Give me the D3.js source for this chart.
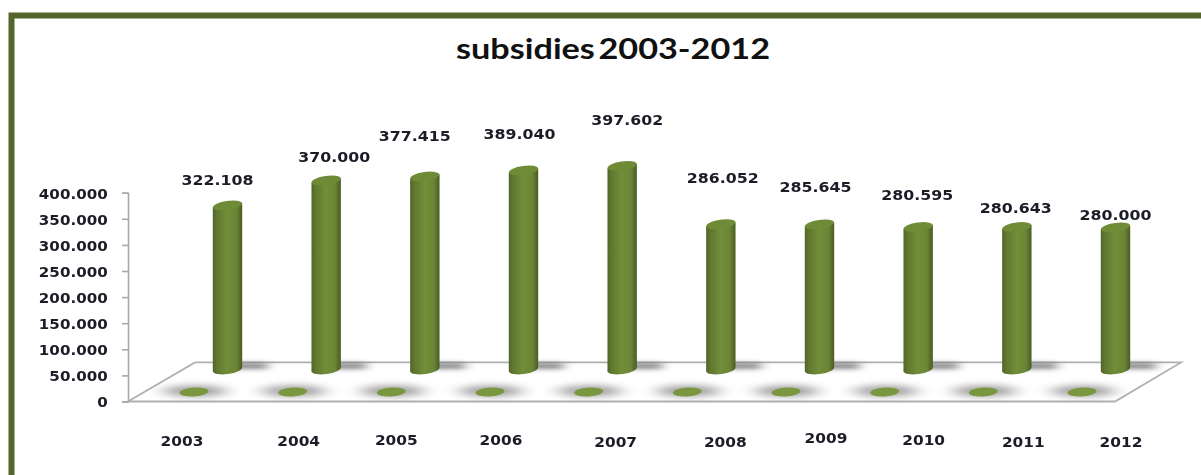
<!DOCTYPE html>
<html>
<head>
<meta charset="utf-8">
<script src="https://cdn.jsdelivr.net/npm/d3@7"></script>
<style>
  html, body { margin: 0; padding: 0; background: #fff; overflow: hidden; }
  text { font-family: "DejaVu Sans", sans-serif; font-weight: bold; fill: #1c1c28; }
  .title { font-family: Lato, sans-serif; font-size: 29px; fill: #111; word-spacing: -4px; }
</style>
</head>
<body>
<svg id="vis" width="1201" height="475"></svg>
<script>
const years = ["2003", "2004", "2005", "2006", "2007", "2008", "2009", "2010", "2011", "2012"];
const subsidies = [322108, 370000, 377415, 389040, 397602, 286052, 285645, 280595, 280643, 280000];
const axisTicks = [0, 50000, 100000, 150000, 200000, 250000, 300000, 350000, 400000];

// the labels in the original were moved by hand, so they don't sit on the bars
const yearNudgeX = [-12, 6, 5, 11, 27, 38, 40, 39, 40, 39];
const yearNudgeY = [0, 0, -1, -1, 1, 1, -3, -1, 1, 1];
const valueNudgeX = [-10, 8, -10, -4, 5, 2, -4, -1, -1, 0];
const valueNudgeY = [-20, -18, -35, -31, -41, -41, -32, -27, -14, -7];

const ink = d3.formatLocale({ decimal: ",", thousands: ".", grouping: [3], currency: ["", ""] }).format(",");

const svg = d3.select("#vis");
const defs = svg.append("defs");

let grad = defs.append("linearGradient").attr("id", "cyl");
grad.append("stop").attr("offset", "0%").attr("stop-color", "#526626");
grad.append("stop").attr("offset", "14%").attr("stop-color", "#5f7730");
grad.append("stop").attr("offset", "48%").attr("stop-color", "#728e39");
grad.append("stop").attr("offset", "80%").attr("stop-color", "#6b8535");
grad.append("stop").attr("offset", "100%").attr("stop-color", "#4a5c24");

defs.append("filter").attr("id", "blur")
  .attr("x", "-50%").attr("y", "-100%").attr("width", "200%").attr("height", "300%")
  .append("feGaussianBlur").attr("stdDeviation", "6 2.5");
defs.append("filter").attr("id", "blurWide")
  .attr("x", "-50%").attr("y", "-100%").attr("width", "200%").attr("height", "300%")
  .append("feGaussianBlur").attr("stdDeviation", "9 3");
defs.append("filter").attr("id", "soft")
  .append("feGaussianBlur").attr("stdDeviation", 0.3);

// frame, open on the right and bottom
svg.append("path")
  .attr("d", "M11.5,475 V15.5 H1201")
  .attr("fill", "none")
  .attr("stroke", "#55662b")
  .attr("stroke-width", 6);

const y = d3.scaleLinear().domain([0, 400000]).range([401.5, 192.7]);
const front = d3.scalePoint().domain(years).range([194, 1082]);
const back = d3.scalePoint().domain(years).range([227.5, 1115.5]);

const floorFront = y(0);
const floorBack = y(80000) + 2.7;

// floor
svg.append("path")
  .attr("d", `M128,${floorFront} L195,${floorBack} H1181 L1115,${floorFront} Z`)
  .attr("fill", "#fff")
  .attr("stroke", "#b0b0b0")
  .attr("stroke-width", 1.8);

// shadows on the floor
svg.append("g").selectAll("rect")
  .data(years)
  .enter()
  .append("rect")
  .attr("x", d => back(d) - 2)
  .attr("y", floorBack + 1)
  .attr("width", 42)
  .attr("height", 5)
  .attr("fill", "#555")
  .attr("opacity", 0.85)
  .attr("filter", "url(#blur)");

svg.append("g").selectAll("ellipse")
  .data(years)
  .enter()
  .append("ellipse")
  .attr("cx", d => front(d) + 1)
  .attr("cy", 391)
  .attr("rx", 32)
  .attr("ry", 6)
  .attr("fill", "#808080")
  .attr("opacity", 0.7)
  .attr("filter", "url(#blurWide)");

// front discs
svg.append("g").selectAll("ellipse")
  .data(years)
  .enter()
  .append("ellipse")
  .attr("cx", d => front(d))
  .attr("cy", 392)
  .attr("rx", 14.5)
  .attr("ry", 4.4)
  .attr("transform", d => `rotate(-4 ${front(d)} 392)`)
  .attr("fill", "#7a963e");

// axis
const axis = d3.axisLeft(y).tickValues(axisTicks).tickSize(6).tickPadding(13).tickFormat(ink);
const axisG = svg.append("g").attr("transform", "translate(128,0)").call(axis);
axisG.select(".domain").attr("stroke", "#a8a8a8").attr("stroke-width", 1.6);
axisG.selectAll(".tick line").attr("stroke", "#a8a8a8").attr("stroke-width", 1.6);
axisG.selectAll(".tick text")
  .attr("font-size", 13.5)
  .attr("font-family", "DejaVu Sans")
  .attr("transform", "translate(-108,1) scale(1.12,1) translate(97.3,0)")
  .attr("filter", "url(#soft)");

// cylinders, the ends tilt up to the right
const baseY = floorFront - 32;
const liftTop = 28;
const radius = 14.7;
const tilt = 2;
const bars = svg.append("g").selectAll("g")
  .data(years)
  .enter()
  .append("g");

bars.append("ellipse")
  .attr("cx", d => back(d))
  .attr("cy", baseY)
  .attr("rx", radius)
  .attr("ry", 4.5)
  .attr("transform", d => `rotate(-8 ${back(d)} ${baseY})`)
  .attr("fill", "url(#cyl)");

bars.append("path")
  .attr("d", (d, i) => {
    let top = y(subsidies[i]) - liftTop;
    let p = d3.path();
    p.moveTo(back(d) - radius, top + tilt);
    p.lineTo(back(d) + radius, top - tilt);
    p.lineTo(back(d) + radius, baseY - tilt);
    p.lineTo(back(d) - radius, baseY + tilt);
    p.closePath();
    return p.toString();
  })
  .attr("fill", "url(#cyl)");

bars.append("ellipse")
  .attr("cx", d => back(d))
  .attr("cy", (d, i) => y(subsidies[i]) - liftTop)
  .attr("rx", radius)
  .attr("ry", 4.5)
  .attr("transform", (d, i) => `rotate(-8 ${back(d)} ${y(subsidies[i]) - liftTop})`)
  .attr("fill", "#6f8b36");

// value labels
svg.append("g").selectAll("text")
  .data(years)
  .enter()
  .append("text")
  .attr("text-anchor", "middle")
  .attr("font-size", 13.5)
  .attr("filter", "url(#soft)")
  .attr("transform", (d, i) => `translate(${back(d) + valueNudgeX[i]},${y(subsidies[i]) - liftTop + valueNudgeY[i]}) scale(1.17,1)`)
  .text((d, i) => ink(subsidies[i]));

// year labels
svg.append("g").selectAll("text")
  .data(years)
  .enter()
  .append("text")
  .attr("text-anchor", "middle")
  .attr("font-size", 13.5)
  .attr("filter", "url(#soft)")
  .attr("transform", (d, i) => `translate(${front(d) + yearNudgeX[i]},${446 + yearNudgeY[i]}) scale(1.14,1)`)
  .text(d => d);

svg.append("text")
  .attr("class", "title")
  .attr("x", 613)
  .attr("y", 59)
  .attr("text-anchor", "middle")
  .attr("textLength", 314)
  .attr("lengthAdjust", "spacingAndGlyphs")
  .text("subsidies 2003-2012");
</script>
</body>
</html>
